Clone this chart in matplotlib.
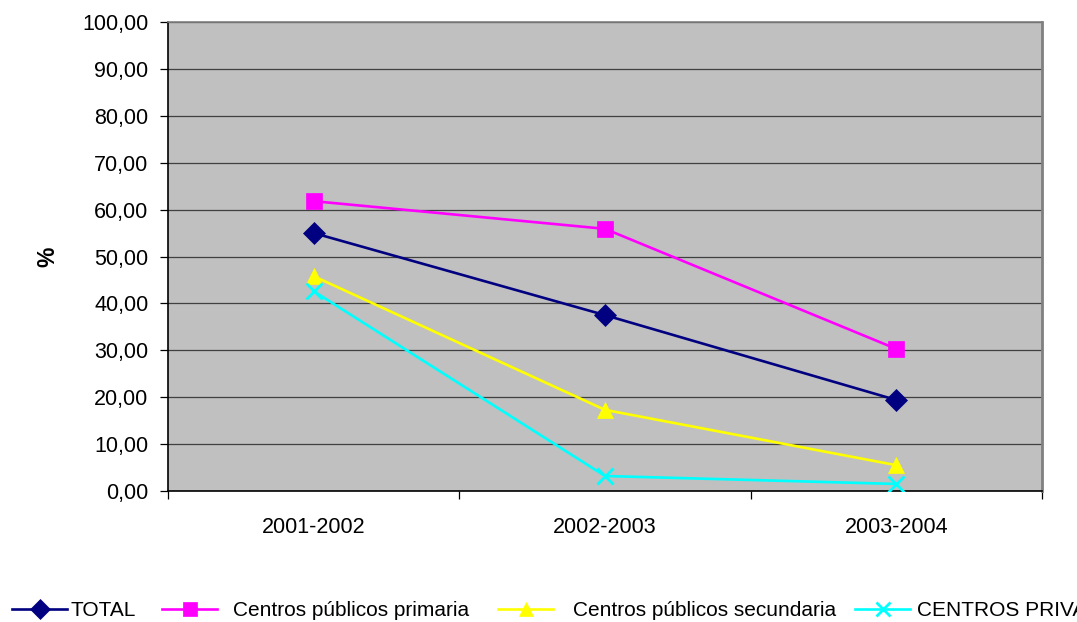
import matplotlib
matplotlib.use("Agg")
import matplotlib.pyplot as plt
from matplotlib.ticker import FuncFormatter, MultipleLocator, FixedLocator

plt.rcParams['font.family'] = ['Liberation Sans', 'DejaVu Sans']

years = ["2001-2002", "2002-2003", "2003-2004"]
total = [55.0, 37.5, 19.4]
primaria = [61.8, 55.9, 30.3]
secundaria = [45.8, 17.3, 5.5]
privados = [42.6, 3.2, 1.5]

series = [
    ("TOTAL", total, "#000080", "D", 11),
    ("Centros públicos primaria", primaria, "#FF00FF", "s", 11),
    ("Centros públicos secundaria", secundaria, "#FFFF00", "^", 11),
    ("CENTROS PRIVADOS", privados, "#00FFFF", "x", 11),
]

W, H = 1077, 622
fig = plt.figure(figsize=(W / 100, H / 100), dpi=100)
ax = fig.add_axes([168 / W, 131 / H, 874 / W, 469 / H])
ax.set_facecolor("#C0C0C0")

x = list(range(len(years)))
lines = []
for label, vals, color, marker, ms in series:
    ln, = ax.plot(x, vals, color=color, linewidth=1.9, marker=marker, markersize=ms,
                  markeredgewidth=2 if marker == "x" else 0.5,
                  markeredgecolor=color, markerfacecolor=color, label=label, zorder=3)
    lines.append(ln)

ax.set_xlim(-0.5, len(years) - 0.5)
ax.set_ylim(0, 100)
ax.yaxis.set_major_locator(MultipleLocator(10))
ax.yaxis.set_major_formatter(FuncFormatter(lambda v, p: f"{v:.2f}".replace(".", ",")))
ax.grid(axis="y", color="#404040", linewidth=0.9, zorder=1)
ax.set_axisbelow(True)

ax.xaxis.set_major_locator(FixedLocator(x))
ax.set_xticklabels(years)
ax.xaxis.set_minor_locator(FixedLocator([i - 0.5 for i in range(len(years) + 1)]))
ax.tick_params(axis="x", which="major", length=0, pad=19, labelsize=15.5)
ax.tick_params(axis="x", which="minor", length=6, width=0.9, direction="out")
ax.tick_params(axis="y", length=6, width=0.9, direction="out", labelsize=15.5, pad=8)

ax.spines["left"].set_color("black")
ax.spines["bottom"].set_color("black")
ax.spines["top"].set_color("#808080")
ax.spines["right"].set_color("#808080")
for s in ax.spines.values():
    s.set_linewidth(1.2)
ax.spines["right"].set_linewidth(2)

ax.set_ylabel("%", fontsize=16.5, fontweight="bold")
ax.yaxis.set_label_coords((59 - 168) / 874, 0.5)

# Legend entries laid out in a single row along the bottom edge
entry_x = [12, 162, 498, 855]
text_pad = [0.15, 0.77, 0.96, 0.34]
for ln, ex, tp in zip(lines, entry_x, text_pad):
    fig.legend(handles=[ln], labels=[ln.get_label()], loc="center left",
               bbox_to_anchor=(ex / W, (H - 611) / H), frameon=False,
               fontsize=15, handlelength=2.64, handletextpad=tp,
               borderpad=0, borderaxespad=0, markerscale=0.9)

fig.savefig("out.png", dpi=100)
